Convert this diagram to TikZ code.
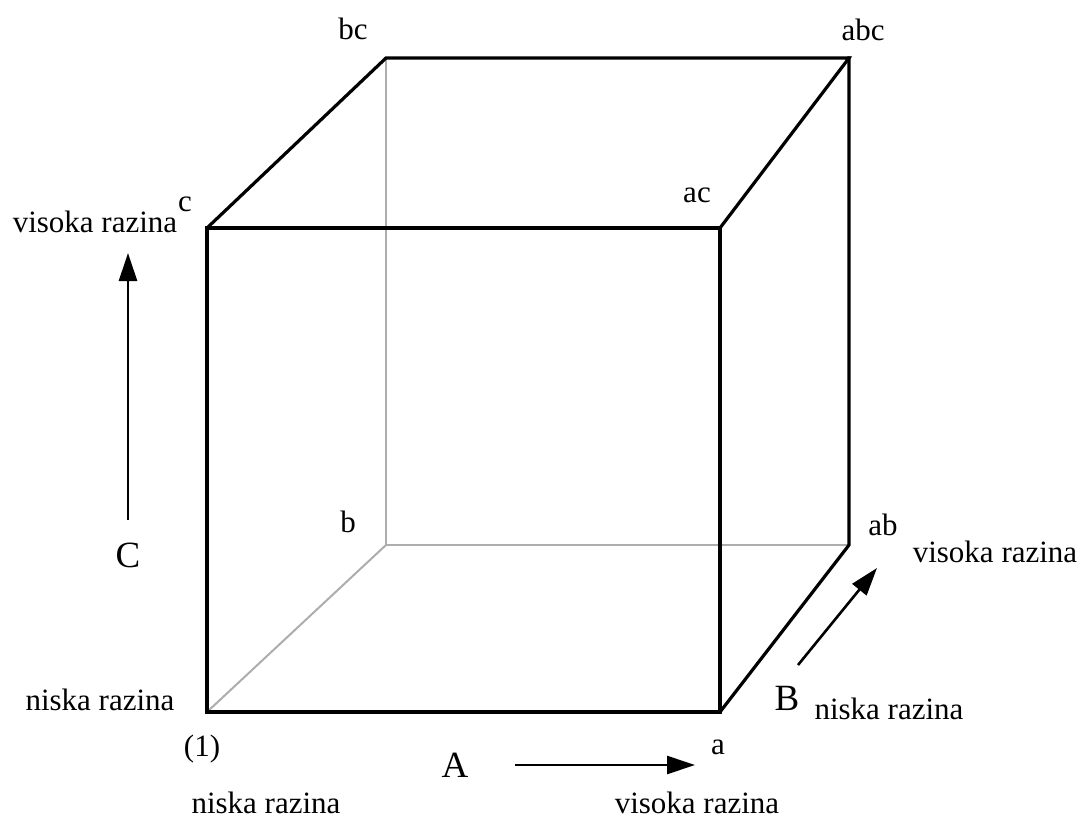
\documentclass[tikz,border=0pt]{standalone}
\usepackage{fontspec}
\setmainfont{Liberation Serif}
\usetikzlibrary{arrows.meta}
\begin{document}
\begin{tikzpicture}[x=1pt,y=-1pt,
  edge/.style={line width=3.2pt, line join=miter, line cap=rect},
  hidden/.style={line width=2pt, draw=black!32},
  lbl/.style={font=\fontsize{31}{36}\selectfont, inner sep=0pt, anchor=base},
  biglbl/.style={font=\fontsize{37}{40}\selectfont, inner sep=0pt, anchor=base},
  axis/.style={line width=2.6pt, -{Triangle[length=28pt,width=18pt]}}]
\useasboundingbox (0,0) rectangle (1082,821);
% cube corners
\coordinate (O)   at (207,712);
\coordinate (A1)  at (720,712);
\coordinate (C1)  at (207,228);
\coordinate (AC)  at (720,228);
\coordinate (B1)  at (386,545);
\coordinate (AB)  at (849,545);
\coordinate (BC)  at (386,58);
\coordinate (ABC) at (849,58);
% hidden edges
\draw[hidden] (O) -- (B1);
\draw[hidden] (B1) -- (BC);
\draw[hidden] (B1) -- (AB);
% visible edges
\draw[edge] (O) -- (A1) -- (AC) -- (C1) -- cycle;
\draw[edge] (C1) -- (BC) -- (ABC) -- (AC);
\draw[edge] (ABC) -- (AB) -- (A1);
% corner labels
\node[lbl] (lbc)  at (353,40)  {bc};
\node[lbl] (labc) at (863,41)  {abc};
\node[lbl] (lc)   at (185,212) {c};
\node[lbl] (lac)  at (697,203) {ac};
\node[lbl] (lb)   at (348,532) {b};
\node[lbl] (lab)  at (883,535) {ab};
\node[lbl] (l1)   at (202,756) {(1)};
\node[lbl] (la)   at (718,754) {a};
% level labels
\node[lbl] (vC) at (95,233)  {visoka razina};
\node[lbl] (nC) at (100,710) {niska razina};
\node[lbl] (nA) at (266,813) {niska razina};
\node[lbl] (vA) at (697,813) {visoka razina};
\node[lbl] (vB) at (995,562) {visoka razina};
\node[lbl] (nB) at (889,719) {niska razina};
% axis letters
\node[biglbl] (axC) at (128,567) {C};
\node[biglbl] (axA) at (455,777) {A};
\node[biglbl] (axB) at (787,710) {B};
% axis arrows
\coordinate (cs) at (128,520);
\coordinate (ce) at (128,253);
\coordinate (as) at (515,765);
\coordinate (ae) at (695,765);
\coordinate (bs) at (798,665);
\coordinate (be) at (877,568);
\draw[axis] (cs) -- (ce);
\draw[axis] (as) -- (ae);
\draw[axis] (bs) -- (be);
\end{tikzpicture}
\end{document}
